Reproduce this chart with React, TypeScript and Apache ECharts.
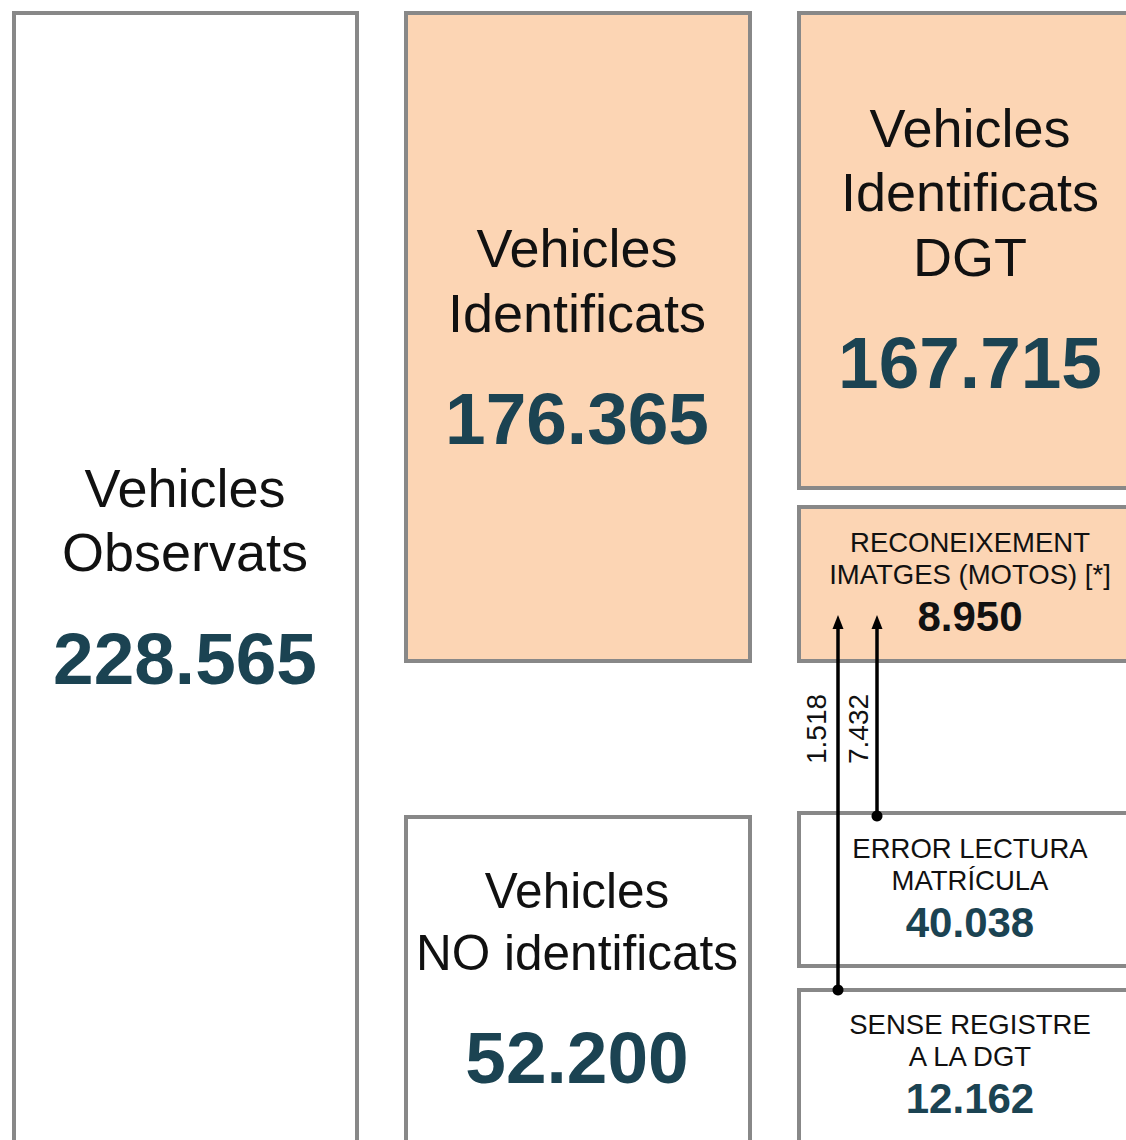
import React, { useEffect, useRef } from "react";
import * as echarts from "echarts";

// ---- Data ----
const boxTitles: string[][] = [
  ["Vehicles", "Observats"],
  ["Vehicles", "Identificats"],
  ["Vehicles", "NO identificats"],
  ["Vehicles", "Identificats", "DGT"],
  ["RECONEIXEMENT", "IMATGES (MOTOS) [*]"],
  ["ERROR LECTURA", "MATRÍCULA"],
  ["SENSE REGISTRE", "A LA DGT"],
];
const boxValues: number[] = [228565, 176365, 52200, 167715, 8950, 40038, 12162];
const flowLabels: number[] = [1518, 7432];

// ---- Layout / styles (not data) ----
type Box = {
  x: number; y: number; w: number; h: number; fill: string;
  cx: number; lineYs: number[]; valueY: number; titleSize: number; valueSize: number; valueColor: string;
};
const PEACH = "#FCD5B4";
const TEAL = "#1B4352";
const layout: Box[] = [
  { x: 14, y: 13, w: 343, h: 1200, fill: "#ffffff", cx: 185, lineYs: [488, 552], valueY: 658, titleSize: 54, valueSize: 73, valueColor: TEAL },
  { x: 406, y: 13, w: 344, h: 648, fill: PEACH, cx: 577, lineYs: [248, 313], valueY: 418, titleSize: 54, valueSize: 73, valueColor: TEAL },
  { x: 406, y: 817, w: 344, h: 400, fill: "#ffffff", cx: 577, lineYs: [890, 952], valueY: 1057, titleSize: 49.5, valueSize: 73, valueColor: TEAL },
  { x: 799, y: 13, w: 400, h: 475, fill: PEACH, cx: 970, lineYs: [128, 192, 257], valueY: 362, titleSize: 54, valueSize: 73, valueColor: TEAL },
  { x: 799, y: 507, w: 400, h: 154, fill: PEACH, cx: 970, lineYs: [542, 574], valueY: 616, titleSize: 27.5, valueSize: 42, valueColor: "#111111" },
  { x: 799, y: 813, w: 400, h: 153, fill: "#ffffff", cx: 970, lineYs: [848, 880], valueY: 922, titleSize: 27.5, valueSize: 42, valueColor: TEAL },
  { x: 799, y: 990, w: 400, h: 220, fill: "#ffffff", cx: 970, lineYs: [1024, 1056], valueY: 1098, titleSize: 27.5, valueSize: 42, valueColor: TEAL },
];
const arrows = [
  { x: 838, yFrom: 990, yTo: 615, labelX: 816, labelY: 729 },
  { x: 877, yFrom: 816, yTo: 615, labelX: 858, labelY: 729 },
];
const FONT = "'Liberation Sans', Arial, Helvetica, sans-serif";

const fmt = (n: number) => String(n).replace(/\B(?=(\d{3})+(?!\d))/g, ".");

export default function App() {
  const ref = useRef<HTMLDivElement>(null);
  useEffect(() => {
    if (!ref.current) return;
    const chart = echarts.init(ref.current, null, { renderer: "svg" });
    const elements: any[] = [];
    layout.forEach((b, i) => {
      elements.push({
        type: "rect",
        shape: { x: b.x, y: b.y, width: b.w, height: b.h },
        style: { fill: b.fill, stroke: "#888888", lineWidth: 4 },
        z: 1,
      });
      boxTitles[i].forEach((t, j) => {
        elements.push({
          type: "text",
          x: b.cx,
          y: b.lineYs[j],
          style: {
            text: t, fill: "#111111", fontSize: b.titleSize, fontFamily: FONT,
            align: "center", verticalAlign: "middle",
          },
          z: 3,
        });
      });
      elements.push({
        type: "text",
        x: b.cx,
        y: b.valueY,
        style: {
          text: fmt(boxValues[i]), fill: b.valueColor, fontSize: b.valueSize, fontWeight: "bold",
          fontFamily: FONT, align: "center", verticalAlign: "middle",
        },
        z: 3,
      });
    });
    arrows.forEach((a, i) => {
      elements.push({
        type: "line",
        shape: { x1: a.x, y1: a.yFrom, x2: a.x, y2: a.yTo + 10 },
        style: { stroke: "#000000", lineWidth: 3.5 },
        z: 5,
      });
      elements.push({
        type: "polygon",
        shape: { points: [[a.x, a.yTo], [a.x - 5.5, a.yTo + 14], [a.x + 5.5, a.yTo + 14]] },
        style: { fill: "#000000" },
        z: 5,
      });
      elements.push({
        type: "circle",
        shape: { cx: a.x, cy: a.yFrom, r: 5.5 },
        style: { fill: "#000000" },
        z: 5,
      });
      elements.push({
        type: "text",
        x: a.labelX,
        y: a.labelY,
        rotation: Math.PI / 2,
        style: {
          text: fmt(flowLabels[i]), fill: "#111111", fontSize: 28, fontFamily: FONT,
          align: "center", verticalAlign: "middle",
        },
        z: 5,
      });
    });
    chart.setOption({ animation: false, graphic: { elements } });
    return () => chart.dispose();
  }, []);
  return (
    <div
      ref={ref}
      style={{ position: "fixed", left: 0, top: 0, width: 1126, height: 1140, background: "#ffffff" }}
    />
  );
}
